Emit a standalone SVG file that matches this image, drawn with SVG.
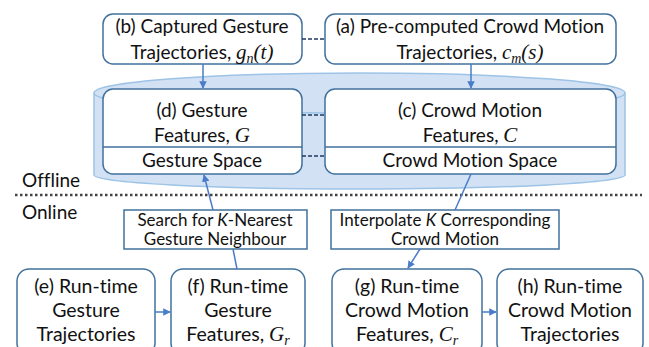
<svg xmlns="http://www.w3.org/2000/svg" width="649" height="347" viewBox="0 0 649 347">
<defs>
<style>
text{font-variant-ligatures:none}
.box{fill:#fff;stroke:#41719c;stroke-width:1.5}
.t{font-family:Lato,"Open Sans",sans-serif;font-size:19px;fill:#111;text-anchor:middle}
.b{font-size:19.5px}
.s{font-family:Lato,"Open Sans",sans-serif;font-size:17px;fill:#111;text-anchor:middle}
.lab{font-family:Lato,"Open Sans",sans-serif;font-size:19px;fill:#111}
.m{font-family:"Liberation Serif",serif;font-style:italic;font-size:21px}
.sub{font-family:"Liberation Serif",serif;font-style:italic;font-size:14px}
.k{font-style:italic}
.arr{fill:none;stroke:#4a7cc7;stroke-width:1.5;marker-end:url(#ah)}
.ln{fill:none;stroke:#4a7cc7;stroke-width:1.5}
.dash{fill:none;stroke:#1f3864;stroke-width:1.5;stroke-dasharray:4 2}
</style>
<marker id="ah" viewBox="0 0 10 10" refX="9" refY="5" markerWidth="5" markerHeight="5" orient="auto" markerUnits="strokeWidth">
<path d="M0,0 L10,5 L0,10 Z" fill="#4a7cc7"/>
</marker>
</defs>
<g id="database">
<path d="M94,93 A265.5,20 0 0 1 625,93 L625,175 A265.5,14 0 0 1 94,175 Z" fill="#d2e2f4" stroke="#9dc3e6" stroke-width="1.5"/>
<path d="M94,93 A265.5,20 0 0 0 625,93" fill="none" stroke="#9dc3e6" stroke-width="1.5"/>
</g>
<g id="node-b">
<rect class="box" x="103" y="14" width="199" height="50" rx="10"/>
<text class="t" x="202" y="33">(b) Captured Gesture</text>
<text class="t" x="202" y="59">Trajectories, <tspan class="m">g</tspan><tspan class="sub" dy="4">n</tspan><tspan class="m" dy="-4">(t)</tspan></text>
</g>
<g id="node-a">
<rect class="box" x="325" y="14" width="291" height="50" rx="10"/>
<text class="t" x="470" y="33">(a) Pre-computed Crowd Motion</text>
<text class="t" x="470" y="59">Trajectories, <tspan class="m">c</tspan><tspan class="sub" dy="4">m</tspan><tspan class="m" dy="-4">(s)</tspan></text>
</g>
<g id="node-d">
<rect class="box" x="103" y="89" width="199" height="85" rx="10"/>
<line x1="103" y1="147" x2="302" y2="147" stroke="#41719c" stroke-width="1.5"/>
<text class="t" x="202" y="117">(d) Gesture</text>
<text class="t" x="202" y="142">Features, <tspan class="m">G</tspan></text>
<text class="t" x="202" y="167">Gesture Space</text>
</g>
<g id="node-c">
<rect class="box" x="325" y="89" width="291" height="85" rx="10"/>
<line x1="325" y1="147" x2="616" y2="147" stroke="#41719c" stroke-width="1.5"/>
<text class="t" x="470" y="117">(c) Crowd Motion</text>
<text class="t" x="470" y="142">Features, <tspan class="m">C</tspan></text>
<text class="t" x="470" y="167">Crowd Motion Space</text>
</g>
<g id="labels">
<text class="lab" x="22" y="187">Offline</text>
<text class="lab" x="22" y="219">Online</text>
<line x1="15" y1="195" x2="642" y2="195" stroke="#444" stroke-width="2.5" stroke-dasharray="2.5 2.5"/>
</g>
<g id="node-search">
<rect x="124" y="210" width="183" height="39" fill="#fff" stroke="#41719c" stroke-width="1.5"/>
<text class="s" x="215" y="226">Search for <tspan class="k">K</tspan>-Nearest</text>
<text class="s" x="215" y="245">Gesture Neighbour</text>
</g>
<g id="node-interp">
<rect x="331" y="210" width="228" height="39" fill="#fff" stroke="#41719c" stroke-width="1.5"/>
<text class="s" x="445" y="226">Interpolate <tspan class="k">K</tspan> Corresponding</text>
<text class="s" x="445" y="245">Crowd Motion</text>
</g>
<g id="node-e">
<rect class="box" x="17" y="269" width="138" height="86" rx="12"/>
<text class="t b" x="86" y="293">(e) Run-time</text>
<text class="t b" x="86" y="317">Gesture</text>
<text class="t b" x="86" y="341">Trajectories</text>
</g>
<g id="node-f">
<rect class="box" x="171" y="269" width="134" height="86" rx="12"/>
<text class="t b" x="238" y="293">(f) Run-time</text>
<text class="t b" x="238" y="317">Gesture</text>
<text class="t b" x="238" y="341">Features, <tspan class="m">G</tspan><tspan class="sub" dy="4">r</tspan></text>
</g>
<g id="node-g">
<rect class="box" x="332" y="269" width="150" height="86" rx="12"/>
<text class="t b" x="407" y="293">(g) Run-time</text>
<text class="t b" x="407" y="317">Crowd Motion</text>
<text class="t b" x="407" y="341">Features, <tspan class="m">C</tspan><tspan class="sub" dy="4">r</tspan></text>
</g>
<g id="node-h">
<rect class="box" x="497" y="269" width="146" height="86" rx="12"/>
<text class="t b" x="570" y="293">(h) Run-time</text>
<text class="t b" x="570" y="317">Crowd Motion</text>
<text class="t b" x="570" y="341">Trajectories</text>
</g>
<g id="connectors">
<line class="dash" x1="302" y1="39" x2="325" y2="39"/>
<line class="dash" x1="302" y1="115" x2="325" y2="115"/>
<line class="dash" x1="302" y1="156" x2="325" y2="156"/>
<line class="arr" x1="203" y1="64" x2="203" y2="88"/>
<line class="arr" x1="471" y1="64" x2="471" y2="88"/>
<line class="ln" x1="237" y1="269" x2="233" y2="249"/>
<line class="arr" x1="213" y1="210" x2="204" y2="175"/>
<line class="ln" x1="471" y1="174" x2="455" y2="210"/>
<line class="arr" x1="420" y1="249" x2="408" y2="268"/>
<line class="arr" x1="155" y1="312" x2="170" y2="312"/>
<line class="arr" x1="482" y1="312" x2="496" y2="312"/>
</g>
</svg>
